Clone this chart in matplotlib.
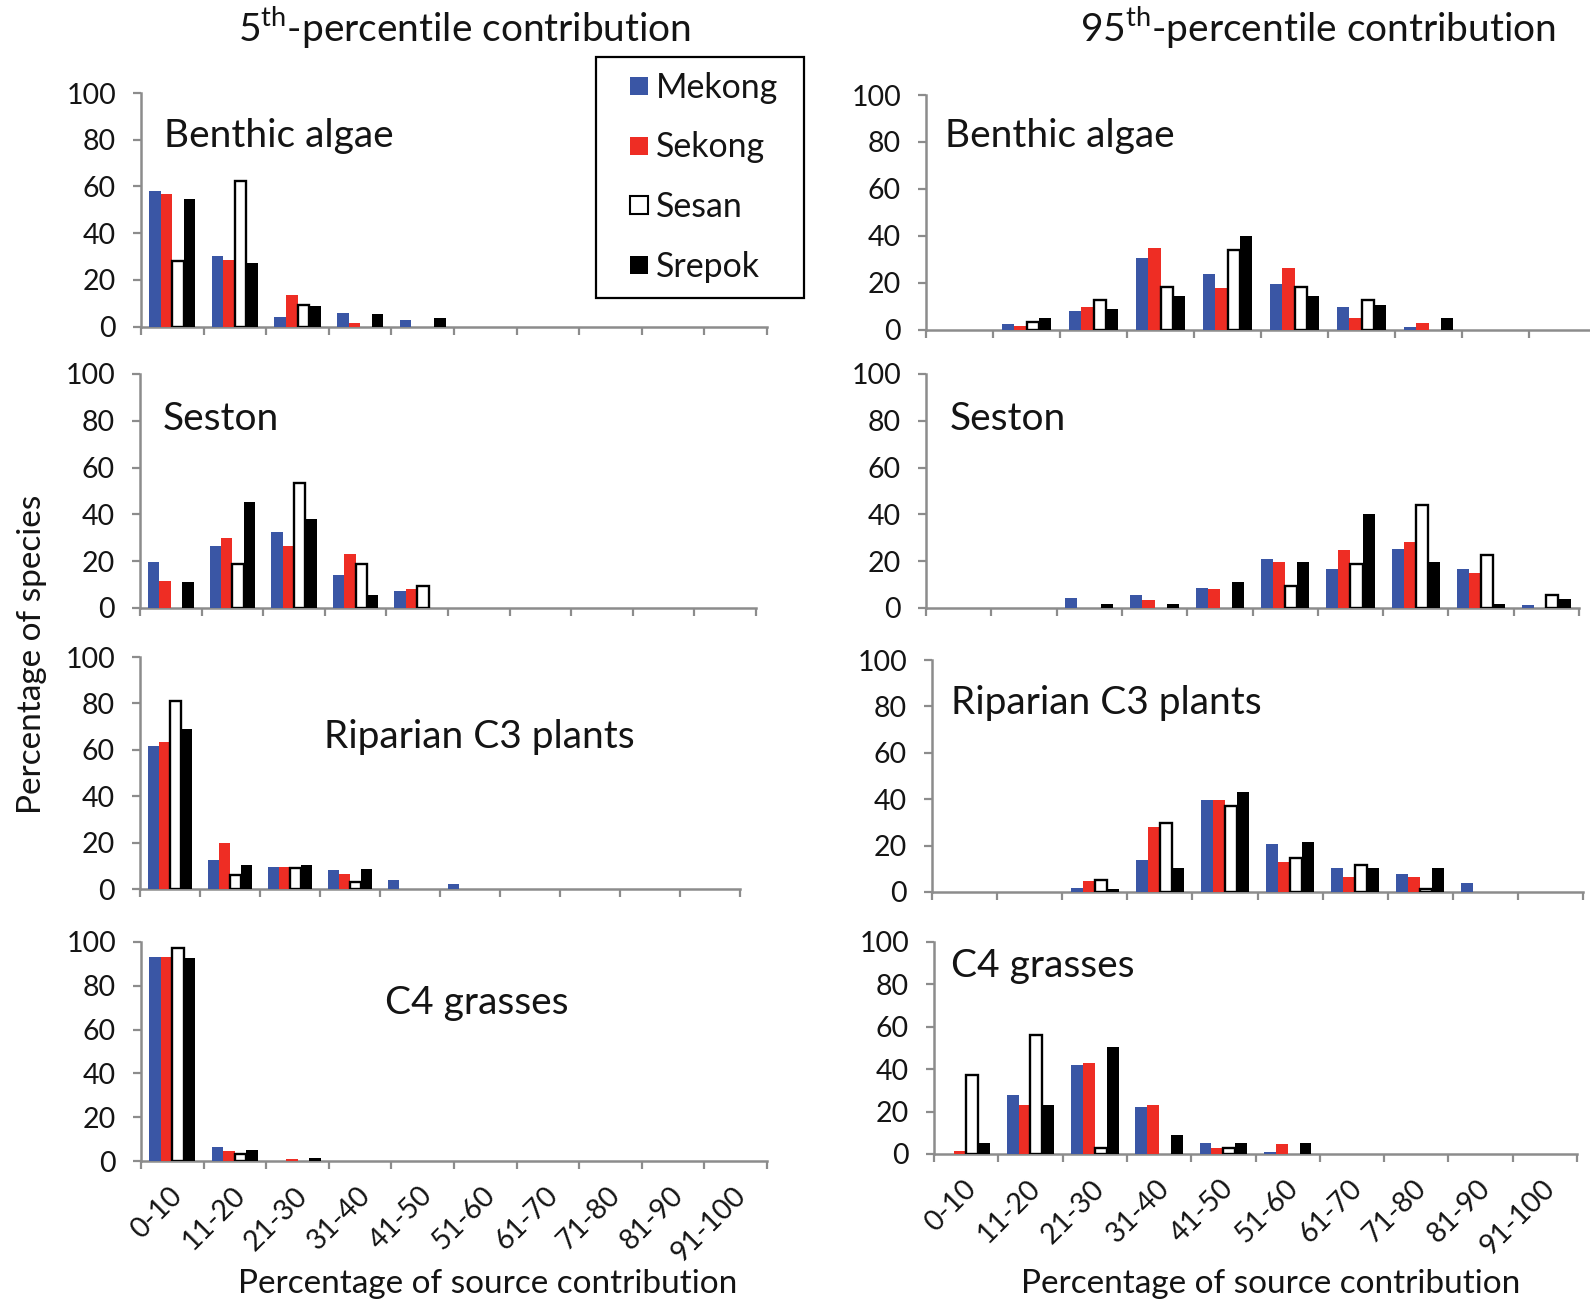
import matplotlib
matplotlib.use("Agg")
import matplotlib.pyplot as plt
from matplotlib.lines import Line2D
from matplotlib.transforms import ScaledTranslation
import numpy as np

plt.rcParams['font.family'] = ['Lato', 'DejaVu Sans']
plt.rcParams['mathtext.fontset'] = 'custom'
plt.rcParams['mathtext.rm'] = 'Lato'

# ---- data -------------------------------------------------------------
categories = ['0-10', '11-20', '21-30', '31-40', '41-50',
              '51-60', '61-70', '71-80', '81-90', '91-100']
rivers = ['Mekong', 'Sekong', 'Sesan', 'Srepok']

# rows: Mekong, Sekong, Sesan, Srepok  (percentage of species)
benthic_5th = [
    [58, 30, 4, 5.6, 2.9, 0, 0, 0, 0, 0],
    [56.6, 28.5, 13.3, 1.6, 0, 0, 0, 0, 0, 0],
    [28.2, 62.5, 9.4, 0, 0, 0, 0, 0, 0, 0],
    [54.8, 27.1, 8.8, 5.3, 3.7, 0, 0, 0, 0, 0],
]
benthic_95th = [
    [0, 2.4, 8.1, 30.6, 23.5, 19.5, 9.7, 1.0, 0, 0],
    [0, 1.3, 9.7, 34.6, 17.9, 26.3, 4.7, 2.8, 0, 0],
    [0, 3.1, 12.4, 18.3, 34.1, 18.3, 12.4, 0, 0, 0],
    [0, 4.8, 8.7, 14.2, 39.8, 14.2, 10.5, 4.8, 0, 0],
]
seston_5th = [
    [19.5, 26.6, 32.3, 14.0, 7.1, 0, 0, 0, 0, 0],
    [11.6, 29.9, 26.6, 23.2, 8.3, 0, 0, 0, 0, 0],
    [0, 18.9, 53.4, 18.9, 9.6, 0, 0, 0, 0, 0],
    [10.9, 45.5, 38.1, 5.4, 0, 0, 0, 0, 0, 0],
]
seston_95th = [
    [0, 0, 4.2, 5.5, 8.5, 21.0, 16.8, 25.3, 16.8, 1.4],
    [0, 0, 0, 3.4, 8.3, 19.8, 25.0, 28.4, 15.1, 0],
    [0, 0, 0, 0, 0, 9.5, 18.8, 43.9, 22.6, 5.6],
    [0, 0, 1.7, 1.7, 10.9, 19.8, 40.0, 19.8, 1.7, 3.7],
]
riparian_5th = [
    [61.6, 12.4, 9.5, 8.1, 4.0, 2.3, 0, 0, 0, 0],
    [63.3, 19.9, 9.5, 6.5, 0, 0, 0, 0, 0, 0],
    [81.2, 6.0, 8.9, 3.0, 0, 0, 0, 0, 0, 0],
    [68.8, 10.4, 10.4, 8.6, 0, 0, 0, 0, 0, 0],
]
riparian_95th = [
    [0, 0, 1.9, 13.6, 39.7, 20.7, 10.5, 7.6, 3.7, 0],
    [0, 0, 4.6, 28.2, 39.7, 13.1, 6.5, 6.5, 0, 0],
    [0, 0, 5.0, 29.9, 37.1, 14.8, 11.5, 1.1, 0, 0],
    [0, 0, 1.4, 10.3, 43.2, 21.6, 10.3, 10.3, 0, 0],
]
c4_5th = [
    [93.1, 6.6, 0, 0, 0, 0, 0, 0, 0, 0],
    [93.1, 4.4, 1.1, 0, 0, 0, 0, 0, 0, 0],
    [97.1, 3.2, 0, 0, 0, 0, 0, 0, 0, 0],
    [92.6, 5.1, 1.5, 0, 0, 0, 0, 0, 0, 0],
]
c4_95th = [
    [0, 28.0, 42.0, 22.2, 5.2, 1.1, 0, 0, 0, 0],
    [1.4, 23.0, 43.0, 23.0, 3.0, 4.6, 0, 0, 0, 0],
    [37.5, 56.2, 2.8, 0, 2.8, 0, 0, 0, 0, 0],
    [5.2, 23.3, 50.6, 9.0, 5.2, 5.2, 0, 0, 0, 0],
]

source_names = ['Benthic algae', 'Seston', 'Riparian C3 plants', 'C4 grasses']
yticks = [0, 20, 40, 60, 80, 100]

# ---- styling ----------------------------------------------------------
W, H = 1590, 1304
face = ['#3A56A5', '#EE2D24', 'white', 'black']
axis_grey = '#8C8C8C'
text_col = '#141414'
tick_fs = 20.5
label_fs = 28

fig = plt.figure(figsize=(W / 100, H / 100), dpi=100)
fig.patch.set_facecolor('white')


def px_axes(x0, x1, ytop, ybot):
    return fig.add_axes([x0 / W, 1 - ybot / H, (x1 - x0) / W, (ybot - ytop) / H])


# (left, right, top, bottom) in pixels, data, label, label position (x, baseline)
panels = [
    ((141, 767, 93, 326.5), benthic_5th, source_names[0], (164, 147)),
    ((926, 1596, 95, 329.5), benthic_95th, source_names[0], (945, 147)),
    ((140, 756, 374, 608), seston_5th, source_names[1], (163, 430)),
    ((926, 1579, 374, 608), seston_95th, source_names[1], (950, 430)),
    ((140, 740, 657, 889), riparian_5th, source_names[2], (324, 748)),
    ((932, 1583, 660, 892), riparian_95th, source_names[2], (951, 714)),
    ((141, 767, 942, 1161), c4_5th, source_names[3], (385, 1014)),
    ((934, 1577, 942, 1154), c4_95th, source_names[3], (951, 977)),
]

bw = 0.185
offsets = (np.arange(4) - 1.5) * bw
centers = np.arange(len(categories)) + 0.5
label_shift = ScaledTranslation(6 / 100, 0, fig.dpi_scale_trans)

for i, (box, data, name, lab) in enumerate(panels):
    ax = px_axes(*box)
    for k in range(4):
        vals = np.array(data[k], dtype=float)
        if k == 2:
            mask = vals > 0
            ax.bar(centers[mask] + offsets[k], vals[mask], width=bw,
                   color=face[k], edgecolor='black', linewidth=1.7, zorder=3)
        else:
            ax.bar(centers + offsets[k], vals, width=bw, color=face[k],
                   edgecolor='none', linewidth=0, zorder=3)
    ax.set_xlim(0, len(categories))
    ax.set_ylim(0, 100)
    ax.set_yticks(yticks)
    ax.set_yticklabels([str(v) for v in yticks], fontsize=tick_fs, color=text_col)
    ax.set_xticks(np.arange(len(categories) + 1))
    ax.set_xticklabels([])
    ax.tick_params(axis='both', which='major', direction='out', length=6,
                   width=1.6, color=axis_grey)
    ax.tick_params(axis='y', pad=12)
    for s in ('top', 'right'):
        ax.spines[s].set_visible(False)
    for s in ('left', 'bottom'):
        ax.spines[s].set_color(axis_grey)
        ax.spines[s].set_linewidth(1.8)
    ax.patch.set_alpha(0)
    if i >= 6:
        ax.set_xticks(centers, minor=True)
        ticklabels = ax.set_xticklabels(categories, minor=True, rotation=45,
                                        ha='right', va='center',
                                        rotation_mode='anchor',
                                        fontsize=tick_fs, color=text_col)
        ax.tick_params(axis='x', which='minor', length=0, pad=22)
        for tl in ticklabels:
            tl.set_transform(tl.get_transform() + label_shift)
    fig.text(lab[0] / W, 1 - lab[1] / H, name, fontsize=label_fs,
             ha='left', va='baseline', color=text_col)

# column titles
fig.text(465 / W, 1 - 41 / H, r'5$^{\mathrm{th}}$-percentile contribution',
         fontsize=28, ha='center', va='baseline', color=text_col)
fig.text(1318 / W, 1 - 41 / H, r'95$^{\mathrm{th}}$-percentile contribution',
         fontsize=28, ha='center', va='baseline', color=text_col)

# axis titles
fig.text(41 / W, 1 - 654 / H, 'Percentage of species', fontsize=24,
         rotation=90, rotation_mode='anchor', ha='center', va='baseline',
         color=text_col)
fig.text(488 / W, 1 - 1293 / H, 'Percentage of source contribution',
         fontsize=24, ha='center', va='baseline', color=text_col)
fig.text(1271 / W, 1 - 1293 / H, 'Percentage of source contribution',
         fontsize=24, ha='center', va='baseline', color=text_col)

# legend with square markers
handles = [Line2D([], [], linestyle='none', marker='s', markersize=12.5,
                  markerfacecolor=face[k],
                  markeredgecolor='black' if k == 2 else face[k],
                  markeredgewidth=1.5 if k == 2 else 0) for k in range(4)]
leg = fig.legend(handles, rivers, loc='upper left',
                 bbox_to_anchor=(596 / W, 1 - 294 / H, 208 / W, 237 / H),
                 mode='expand', fontsize=24.4,
                 frameon=True, fancybox=False, framealpha=1,
                 handlelength=1.65, handletextpad=-0.3,
                 labelspacing=0.82, borderpad=0.43, borderaxespad=0)
leg.get_frame().set_edgecolor('black')
leg.get_frame().set_linewidth(1.6)
for t in leg.get_texts():
    t.set_color(text_col)

fig.savefig('out.png', dpi=100, facecolor='white')
